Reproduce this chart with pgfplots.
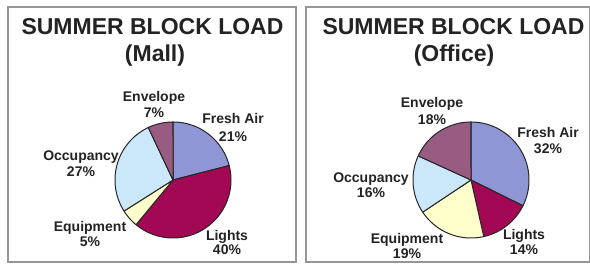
\documentclass[border=0pt]{standalone}
\usepackage{pgfplots}
\pgfplotsset{compat=1.18}
\usepackage{fontspec}
\setmainfont{Liberation Sans}
\definecolor{fresh}{RGB}{143,150,214}
\definecolor{lights}{RGB}{162,8,84}
\definecolor{equip}{RGB}{255,255,204}
\definecolor{occ}{RGB}{202,232,250}
\definecolor{env}{RGB}{152,92,130}
\definecolor{boxc}{RGB}{150,150,150}
\definecolor{txt}{RGB}{35,35,35}
% #1 start (cumulative), #2 share, #3 total, #4 colour
\newcommand\slice[4]{%
  \addplot[draw=black!85, line width=1pt, line join=round, fill=#4,
    domain={90-360*(#1)/(#3)}:{90-360*(#1+#2)/(#3)}, samples=90, variable=\t]
    ({cos(\t)},{sin(\t)}) -- (axis cs:0,0) -- cycle;}
\newcommand\lblfont{\fontsize{14}{16}\selectfont\bfseries\color{txt}}
\newcommand\titlefont{\fontsize{23}{27}\selectfont\bfseries\color{txt}}
\newcommand\lbl[5]{%
  \node[anchor=base, font=\lblfont, inner sep=0pt] at (#1,#2) {#3};
  \node[anchor=base, font=\lblfont, inner sep=0pt] at (#1,#4) {#5};}
\begin{document}
\begin{tikzpicture}[x=1pt,y=1pt]
\useasboundingbox (0,0) rectangle (590,267);
\fill[white] (0,0) rectangle (590,267);
\draw[boxc, line width=1.2pt] (8,5) rectangle (296,260);
\draw[boxc, line width=1.2pt] (306,5) rectangle (589.4,260);
% titles
\node[anchor=base, font=\titlefont, inner sep=0pt] at (152.5,232) {SUMMER BLOCK LOAD};
\node[anchor=base, font=\titlefont, inner sep=0pt] at (155,205) {(Mall)};
\node[anchor=base, font=\titlefont, inner sep=0pt] at (453.5,232) {SUMMER BLOCK LOAD};
\node[anchor=base, font=\titlefont, inner sep=0pt] at (454,205) {(Office)};
% Mall pie
\begin{axis}[at={(173pt,87pt)}, anchor=center, x=58pt, y=58pt,
  xmin=-1, xmax=1, ymin=-1, ymax=1, hide axis, clip=false]
  \slice{0}{21}{100}{fresh}
  \slice{21}{40}{100}{lights}
  \slice{61}{5}{100}{equip}
  \slice{66}{27}{100}{occ}
  \slice{93}{7}{100}{env}
\end{axis}
% Office pie
\begin{axis}[at={(471pt,87pt)}, anchor=center, x=58pt, y=58pt,
  xmin=-1, xmax=1, ymin=-1, ymax=1, hide axis, clip=false]
  \slice{0}{32}{99}{fresh}
  \slice{32}{14}{99}{lights}
  \slice{46}{19}{99}{equip}
  \slice{65}{16}{99}{occ}
  \slice{81}{18}{99}{env}
\end{axis}
% Mall labels
\lbl{154}{165.5}{Envelope}{149.5}{7\%}
\lbl{233}{143.5}{Fresh Air}{125.5}{21\%}
\lbl{81}{106.5}{Occupancy}{90.5}{27\%}
\lbl{90}{35.5}{Equipment}{20.5}{5\%}
\lbl{227}{26.5}{Lights}{12.5}{40\%}
% Office labels
\lbl{432}{159.5}{Envelope}{142.5}{18\%}
\lbl{548}{129.5}{Fresh Air}{113.5}{32\%}
\lbl{371}{84.5}{Occupancy}{69.5}{16\%}
\lbl{407}{23.5}{Equipment}{8.5}{19\%}
\lbl{524}{27.5}{Lights}{12.5}{14\%}
\end{tikzpicture}
\end{document}
